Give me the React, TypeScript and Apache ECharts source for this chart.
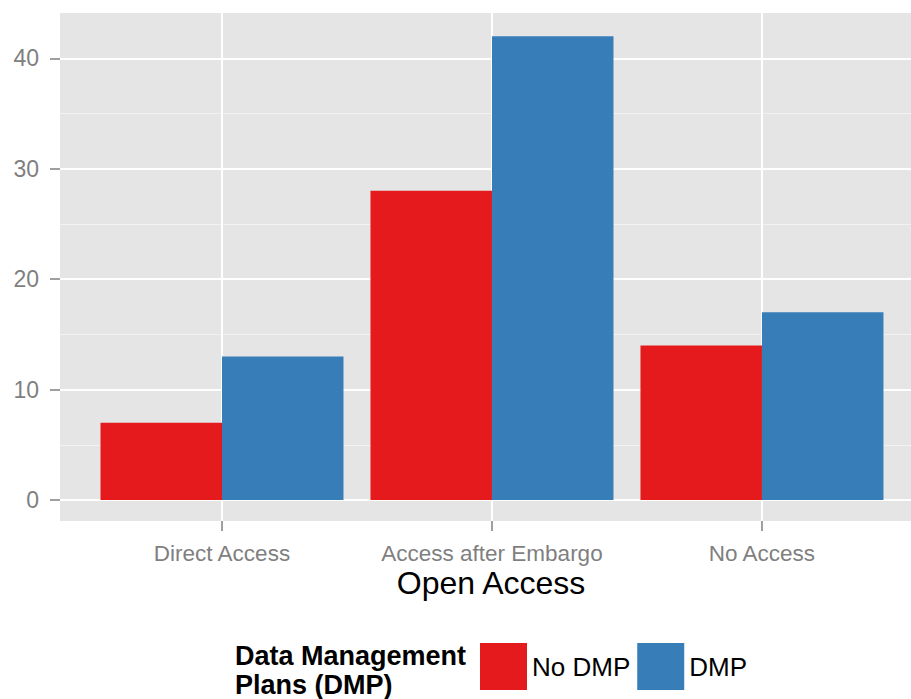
import React, { useEffect, useRef } from "react";
import * as echarts from "echarts";

const categories = ["Direct Access", "Access after Embargo", "No Access"];
const noDmpValues = [7, 28, 14];
const dmpValues = [13, 42, 17];
const yTicks = [0, 10, 20, 30, 40];
const yMinorTicks = [5, 15, 25, 35];
const xPositions = [1, 2, 3];
const seriesNames = ["No DMP", "DMP"];
const legendTitle = "Data Management\nPlans (DMP)";
const xTitle = "Open Access";

const FONT = "'Liberation Sans', Arial, sans-serif";

export default function App() {
  const ref = useRef<HTMLDivElement>(null);
  useEffect(() => {
    if (!ref.current) return;
    const chart = echarts.init(ref.current, null, { renderer: "svg" });
    const toPairs = (vals: number[]) => vals.map((v, i) => [xPositions[i], v]);
    chart.setOption({
      animation: false,
      backgroundColor: "#FFFFFF",
      textStyle: { fontFamily: FONT },
      grid: {
        left: 60,
        top: 13,
        right: 0,
        bottom: 178,
        show: true,
        backgroundColor: "#E5E5E5",
        borderWidth: 0,
        containLabel: false,
      },
      xAxis: {
        type: "value",
        min: 0.4,
        max: 3.552,
        axisLine: { show: false, onZero: false },
        axisTick: {
          show: true,
          length: 10,
          customValues: xPositions,
          lineStyle: { color: "#7F7F7F", width: 1.5 },
        },
        axisLabel: {
          customValues: xPositions,
          margin: 21,
          fontSize: 22.5,
          color: "#7F7F7F",
          fontFamily: FONT,
          formatter: (v: number) => categories[Math.round(v) - 1] ?? "",
        },
        splitLine: { show: true, lineStyle: { color: "#FFFFFF", width: 2 } },
      },
      yAxis: [
        {
          type: "value",
          min: -1.9,
          max: 44.1,
          axisLine: { show: false, onZero: false },
          axisTick: {
            show: true,
            length: 10,
            customValues: yTicks,
            lineStyle: { color: "#7F7F7F", width: 1.5 },
          },
          axisLabel: {
            customValues: yTicks,
            margin: 21,
            fontSize: 23,
            color: "#7F7F7F",
            fontFamily: FONT,
          },
          splitLine: { show: true, lineStyle: { color: "#FFFFFF", width: 2 } },
        },
        {
          type: "value",
          min: -1.9,
          max: 44.1,
          position: "left",
          axisLine: { show: false, onZero: false },
          axisTick: { show: false, customValues: yMinorTicks },
          axisLabel: { show: false, customValues: yMinorTicks },
          splitLine: { show: true, lineStyle: { color: "#F2F2F2", width: 1 } },
        },
      ],
      legend: {
        left: 480,
        top: 643,
        padding: 0,
        orient: "horizontal",
        itemWidth: 47,
        itemHeight: 47,
        itemGap: 7,
        selectedMode: false,
        icon: "rect",
        textStyle: { fontSize: 26, color: "#000000", fontFamily: FONT },
        data: seriesNames,
      },
      graphic: [
        {
          type: "text",
          x: 491,
          y: 583,
          style: {
            text: xTitle,
            fontSize: 32,
            fill: "#000000",
            fontFamily: FONT,
            align: "center",
            verticalAlign: "middle",
          },
        },
        {
          type: "text",
          left: 235,
          top: 641,
          style: {
            text: legendTitle,
            fontSize: 27,
            fontWeight: "bold",
            lineHeight: 29,
            fill: "#000000",
            fontFamily: FONT,
          },
        },
      ],
      series: [
        {
          name: seriesNames[0],
          type: "bar",
          data: toPairs(noDmpValues),
          barWidth: 121.5,
          barGap: "0%",
          itemStyle: { color: "#E41A1C" },
        },
        {
          name: seriesNames[1],
          type: "bar",
          data: toPairs(dmpValues),
          barWidth: 121.5,
          barGap: "0%",
          itemStyle: { color: "#377EB8" },
        },
      ],
    });
    return () => chart.dispose();
  }, []);
  return (
    <div
      ref={ref}
      style={{ position: "absolute", left: 0, top: 0, width: 911, height: 699 }}
    />
  );
}
